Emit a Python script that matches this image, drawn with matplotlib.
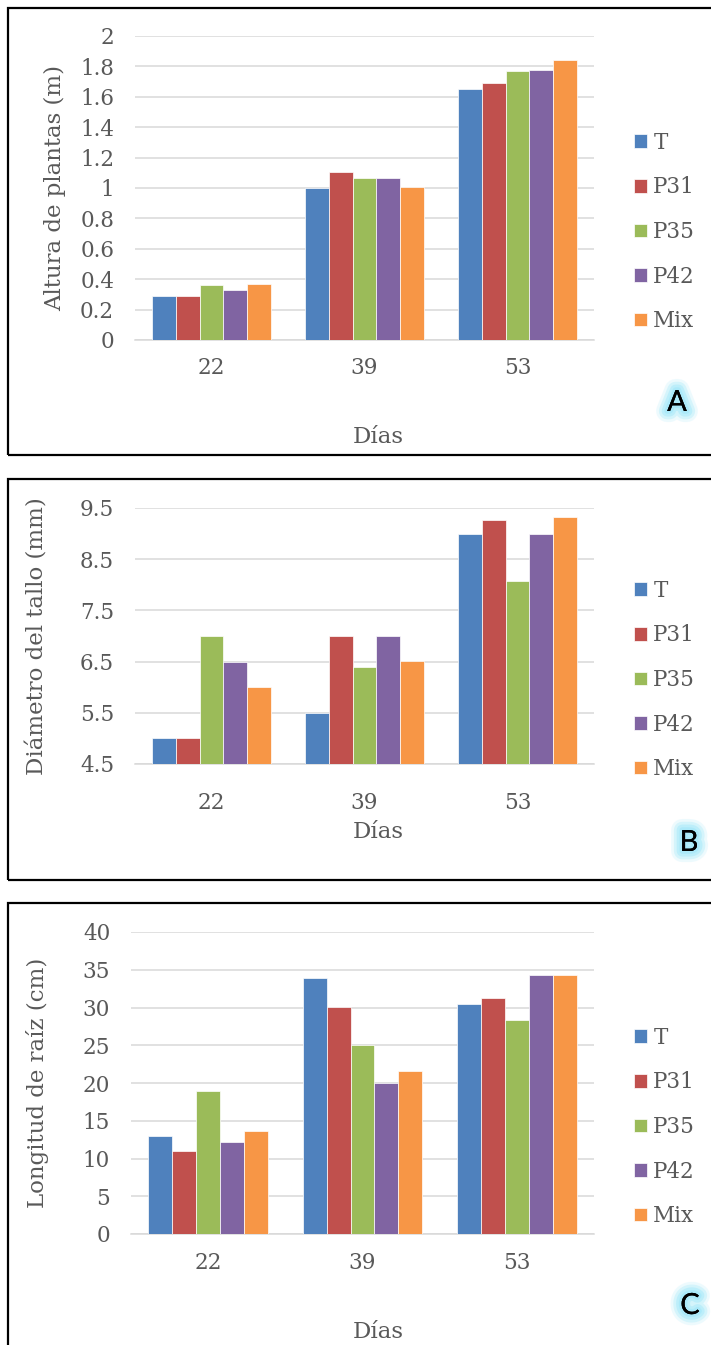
import matplotlib
matplotlib.use("Agg")
import matplotlib.pyplot as plt
from matplotlib.patches import Rectangle
import matplotlib.patheffects as pe
import numpy as np

days = ["22", "39", "53"]
series = ["T", "P31", "P35", "P42", "Mix"]
colors = ["#4F81BD", "#C0504D", "#9BBB59", "#8064A2", "#F79646"]

altura = {
    "T":   [0.29, 1.00, 1.653],
    "P31": [0.29, 1.105, 1.692],
    "P35": [0.36, 1.066, 1.769],
    "P42": [0.33, 1.066, 1.774],
    "Mix": [0.367, 1.004, 1.84],
}
diametro = {
    "T":   [5.0, 5.5, 9.0],
    "P31": [5.0, 7.0, 9.26],
    "P35": [7.0, 6.4, 8.07],
    "P42": [6.5, 7.0, 9.0],
    "Mix": [6.01, 6.51, 9.32],
}
longitud = {
    "T":   [12.95, 33.9, 30.4],
    "P31": [10.95, 30.1, 31.2],
    "P35": [18.95, 25.0, 28.4],
    "P42": [12.15, 20.0, 34.3],
    "Mix": [13.6, 21.6, 34.27],
}

ticksA = [0, 0.2, 0.4, 0.6, 0.8, 1, 1.2, 1.4, 1.6, 1.8, 2]
ticklabA = ["0", "0.2", "0.4", "0.6", "0.8", "1", "1.2", "1.4", "1.6", "1.8", "2"]
ticksB = [4.5, 5.5, 6.5, 7.5, 8.5, 9.5]
ticklabB = ["4.5", "5.5", "6.5", "7.5", "8.5", "9.5"]
ticksC = [0, 5, 10, 15, 20, 25, 30, 35, 40]
ticklabC = [str(t) for t in ticksC]

W, H = 711, 1345
fig = plt.figure(figsize=(W / 100, H / 100), dpi=100)

SERIF = "DejaVu Serif"
TXT = "#595959"
GRID = "#D9D9D9"
FS = 15.5


def fx(px):
    return px / W


def fy(py):
    return 1 - py / H


def panel(box_top, box_bot, ax_l, ax_r, ax_t, ax_b, data, ylim, ticks, ticklabels,
          ylabel, ylab_x, xlab_y, xpad, leg_cy, letter, letter_xy):
    fig.patches.append(Rectangle((fx(8), fy(box_bot)), fx(760) - fx(8), fy(box_top) - fy(box_bot),
                                 transform=fig.transFigure, fill=False, edgecolor="black",
                                 linewidth=1.6, zorder=0))
    ax = fig.add_axes([fx(ax_l), fy(ax_b), fx(ax_r) - fx(ax_l), fy(ax_t) - fy(ax_b)])
    x = np.arange(len(days))
    bw = 0.155
    for i, s in enumerate(series):
        vals = np.array(data[s])
        ax.bar(x + (i - 2) * bw, vals - ylim[0], bw, bottom=ylim[0], color=colors[i],
               edgecolor="white", linewidth=0.5, label=s, zorder=3)
    ax.set_xlim(-0.5, 2.5)
    ax.set_ylim(*ylim)
    ax.set_yticks(ticks)
    ax.set_yticklabels(ticklabels)
    ax.set_xticks(x)
    ax.set_xticklabels(days)
    for sp in ["left", "right", "top"]:
        ax.spines[sp].set_visible(False)
    ax.spines["bottom"].set_color(GRID)
    ax.spines["bottom"].set_linewidth(1.1)
    ax.grid(axis="y", color=GRID, linewidth=1.1, zorder=0)
    ax.set_axisbelow(True)
    ax.tick_params(axis="y", length=0, pad=15, labelsize=FS, labelcolor=TXT)
    ax.tick_params(axis="x", length=0, pad=xpad, labelsize=FS, labelcolor=TXT)
    for lab in ax.get_xticklabels() + ax.get_yticklabels():
        lab.set_fontfamily(SERIF)
    fig.text(fx(ylab_x), fy((ax_t + ax_b) / 2), ylabel, rotation=90, ha="center", va="center",
             fontsize=16.5, color=TXT, family=SERIF)
    fig.text(fx(378), fy(xlab_y), "Días", ha="center", va="center", fontsize=16.5, color=TXT,
             family=SERIF)
    handles, labels = ax.get_legend_handles_labels()
    fig.legend(handles, labels, loc="center left", bbox_to_anchor=(fx(634), fy(leg_cy)),
               frameon=False, borderpad=0, borderaxespad=0, handlelength=0.6,
               handleheight=0.6, handletextpad=0.3, labelspacing=1.05,
               prop={"family": SERIF, "size": FS}, labelcolor=TXT)
    t = fig.text(fx(letter_xy[0]), fy(letter_xy[1]), letter, ha="center", va="center",
                 fontsize=21, color="black", family="Lato")
    t.set_path_effects([
        pe.withStroke(linewidth=16, foreground="#DDF6FD", alpha=0.5),
        pe.withStroke(linewidth=12, foreground="#C4F0FB", alpha=0.6),
        pe.withStroke(linewidth=8, foreground="#ADEAFA", alpha=0.6),
        pe.withStroke(linewidth=4, foreground="#A0E6F9", alpha=0.6),
        pe.Normal(),
    ])
    return ax


panel(8, 455, 135, 594, 36, 340, altura, (0, 2), ticksA, ticklabA,
      "Altura de plantas (m)", 55, 437, 12, 232, "A", (677, 403))
panel(479, 880, 135, 594, 508, 764, diametro, (4.5, 9.5), ticksB, ticklabB,
      "Diámetro del tallo (mm)", 38, 832, 20, 680, "B", (689, 843))
panel(903, 1352, 131, 594, 932, 1234, longitud, (0, 40), ticksC, ticklabC,
      "Longitud de raíz (cm)", 38, 1332, 13, 1127, "C", (690, 1306))

fig.savefig("out.png", dpi=100)
